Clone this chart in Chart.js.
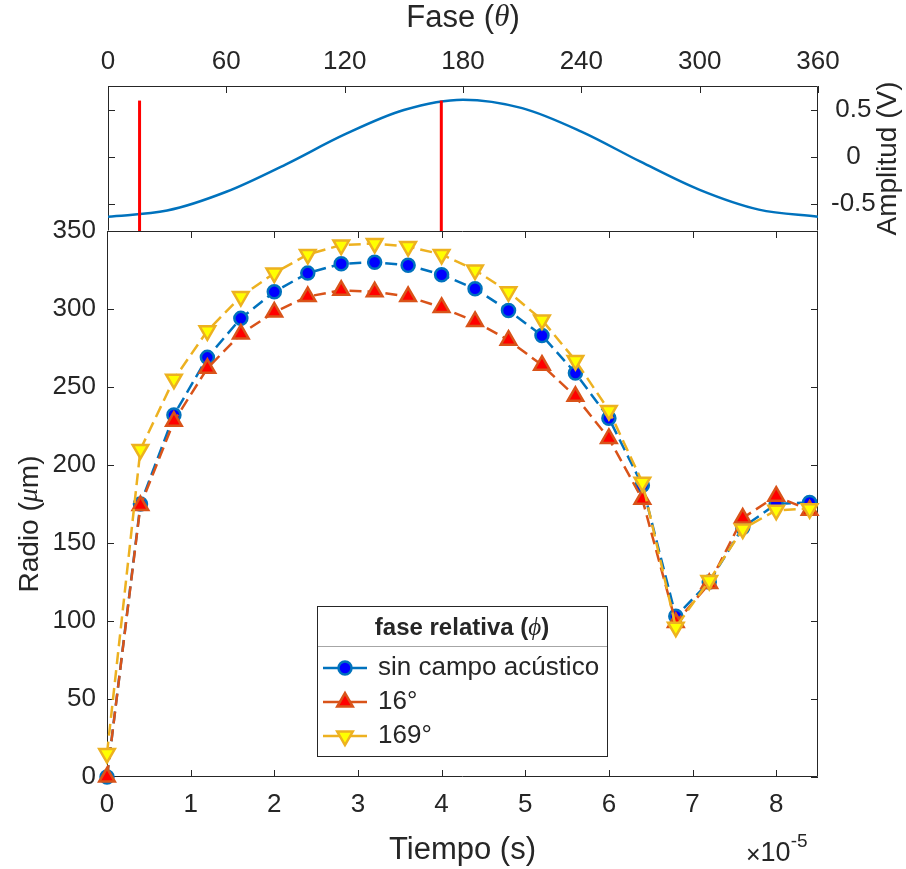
<!DOCTYPE html>
<html>
<head>
<meta charset="utf-8">
<title>Radio vs tiempo</title>
<script src="https://cdn.jsdelivr.net/npm/chart.js@4.4.0/dist/chart.umd.min.js"></script>
<style>
  html, body { margin: 0; padding: 0; background: #fff; }
  #lienzo { position: relative; width: 906px; height: 869px; }
  #lienzo canvas { position: absolute; left: 0; top: 0; }
</style>
</head>
<body>
<div id="lienzo">
  <canvas id="radio" width="906" height="869"></canvas>
  <canvas id="fase" width="906" height="271"></canvas>
</div>
<script>
// tiempo en unidades de 1e-5 s
const tiempo = [0, 0.4, 0.8, 1.2, 1.6, 2.0, 2.4, 2.8, 3.2, 3.6, 4.0, 4.4, 4.8, 5.2, 5.6, 6.0, 6.4, 6.8, 7.2, 7.6, 8.0, 8.4];
const radioSinCampo = [0, 175, 232, 269, 294, 311, 323, 329, 330, 328, 322, 313, 299, 283, 259, 230, 187, 103, 125, 160, 175, 176];
const radioFase16 = [0, 174, 228, 262, 284, 298, 308, 312, 311, 308, 301, 292, 280, 264, 244, 217, 178, 99, 124, 166, 180, 171];
const radioFase169 = [15, 210, 255, 286, 308, 323, 335, 341, 342, 340, 335, 325, 311, 293, 267, 235, 189, 96, 126, 159, 171, 172];
const nombresSeries = ['sin campo acústico', '16°', '169°'];
const ticksTiempo = [0, 1, 2, 3, 4, 5, 6, 7, 8];
const ticksRadio = [0, 50, 100, 150, 200, 250, 300, 350];

// panel superior: señal de excitación
const fase = [0, 30, 60, 90, 120, 150, 180, 210, 240, 270, 300, 330, 360];
const amplitud = [-0.635, -0.57, -0.37, -0.08, 0.24, 0.50, 0.61, 0.52, 0.27, -0.05, -0.35, -0.56, -0.635];
const fasesMarcadas = [16, 169];
const alturaMarca = [-0.787, 0.6];
const ticksFase = [0, 60, 120, 180, 240, 300, 360];
const ticksAmplitud = [-0.5, 0, 0.5];
const rangoAmplitud = [-0.787, 0.755];

const EJE = '#262626';
const SANS = '"Liberation Sans", Arial, Helvetica, sans-serif';
const SERIF = '"Liberation Serif", "DejaVu Serif", serif';
const TAM_TICK = 26;
const TAM_TITULO = 31;
const TAM_TITULO_V = 28;
const LARGO_TICK = 7;

Chart.defaults.font.family = SANS;
Chart.defaults.color = EJE;

// escribe un texto hecho de trozos con fuentes distintas, centrado en (x, y)
function textoMixto(ctx, partes, x, y, angulo, alinear) {
    ctx.save();
    ctx.translate(x, y);
    ctx.rotate(angulo || 0);
    ctx.textBaseline = 'middle';
    ctx.textAlign = 'left';
    let total = 0;
    partes.forEach(p => { ctx.font = p.f; p.w = ctx.measureText(p.t).width; total += p.w; });
    let cx = alinear === 'left' ? 0 : -total / 2;
    partes.forEach(p => {
        ctx.font = p.f;
        ctx.fillStyle = EJE;
        ctx.fillText(p.t, cx, p.dy || 0);
        cx += p.w;
    });
    ctx.restore();
}

// caja y marcas hacia dentro, estilo MATLAB
function dibujarMarco(chart, ejes, bordes) {
    const ctx = chart.ctx;
    const a = chart.chartArea;
    const l = a.left + 0.5, r = a.right - 0.5, t = a.top + 0.5, b = a.bottom - 0.5;
    ctx.save();
    ctx.strokeStyle = EJE;
    ctx.lineWidth = 1;
    ctx.beginPath();
    ejes.forEach(e => {
        const s = chart.scales[e.id];
        s.ticks.forEach(tk => {
            const p = Math.round(s.getPixelForValue(tk.value)) + 0.5;
            e.lados.forEach(lado => {
                if (lado === 'top') { ctx.moveTo(p, a.top); ctx.lineTo(p, a.top + LARGO_TICK); }
                if (lado === 'bottom') { ctx.moveTo(p, a.bottom); ctx.lineTo(p, a.bottom - LARGO_TICK); }
                if (lado === 'left') { ctx.moveTo(a.left, p); ctx.lineTo(a.left + LARGO_TICK, p); }
                if (lado === 'right') { ctx.moveTo(a.right, p); ctx.lineTo(a.right - LARGO_TICK, p); }
            });
        });
    });
    if (bordes.includes('top')) { ctx.moveTo(l, t); ctx.lineTo(r, t); }
    if (bordes.includes('bottom')) { ctx.moveTo(l, b); ctx.lineTo(r, b); }
    if (bordes.includes('left')) { ctx.moveTo(l, t); ctx.lineTo(l, b); }
    if (bordes.includes('right')) { ctx.moveTo(r, t); ctx.lineTo(r, b); }
    ctx.stroke();
    ctx.restore();
}

const marcoRadio = {
    id: 'marcoRadio',
    beforeDatasetsDraw(chart) {
        dibujarMarco(chart, [
            { id: 'x', lados: ['top', 'bottom'] },
            { id: 'y', lados: ['left', 'right'] }
        ], ['top', 'bottom', 'left', 'right']);
    },
    afterDraw(chart) {
        const ctx = chart.ctx;
        const a = chart.chartArea;
        const normal = TAM_TITULO + 'px ' + SANS;
        textoMixto(ctx, [{ t: 'Tiempo (s)', f: normal }], (a.left + a.right) / 2, 850);
        textoMixto(ctx, [
            { t: 'Radio (', f: TAM_TITULO_V + 'px ' + SANS },
            { t: 'μ', f: 'italic ' + TAM_TITULO_V + 'px ' + SERIF },
            { t: 'm)', f: TAM_TITULO_V + 'px ' + SANS }
        ], 30, 524, -Math.PI / 2);
        textoMixto(ctx, [
            { t: '×', f: '25px ' + SANS, dy: 2 },
            { t: '10', f: '27px ' + SANS },
            { t: '-5', f: '19px ' + SANS, dy: -12 }
        ], 746, 854, 0, 'left');

        // leyenda
        const caja = { x: 317, y: 606, w: 290, h: 151 };
        ctx.save();
        ctx.fillStyle = '#fff';
        ctx.fillRect(caja.x, caja.y, caja.w, caja.h);
        ctx.strokeStyle = EJE;
        ctx.lineWidth = 1;
        ctx.strokeRect(caja.x + 0.5, caja.y + 0.5, caja.w, caja.h - 1);
        ctx.strokeStyle = '#a6a6a6';
        ctx.beginPath();
        ctx.moveTo(caja.x + 1, 646.5);
        ctx.lineTo(caja.x + caja.w, 646.5);
        ctx.stroke();
        ctx.restore();
        textoMixto(ctx, [
            { t: 'fase relativa (', f: 'bold 24px ' + SANS },
            { t: 'ϕ', f: 'italic 25px ' + SERIF },
            { t: ')', f: 'bold 24px ' + SANS }
        ], caja.x + caja.w / 2, 628);
        chart.data.datasets.forEach((ds, i) => {
            const y = 668 + i * 34;
            ctx.save();
            ctx.setLineDash([]);
            ctx.strokeStyle = ds.borderColor;
            ctx.lineWidth = ds.borderWidth;
            ctx.beginPath();
            ctx.moveTo(323, y);
            ctx.lineTo(367, y);
            ctx.stroke();
            ctx.fillStyle = ds.pointBackgroundColor;
            ctx.strokeStyle = ds.pointBorderColor;
            ctx.lineWidth = ds.pointBorderWidth;
            Chart.helpers.drawPoint(ctx, {
                pointStyle: ds.pointStyle,
                radius: ds.pointRadius,
                rotation: ds.pointRotation || 0,
                borderWidth: ds.pointBorderWidth
            }, 345, y);
            ctx.restore();
            textoMixto(ctx, [{ t: nombresSeries[i], f: '26px ' + SANS }], 378, y, 0, 'left');
        });
    }
};

const marcoFase = {
    id: 'marcoFase',
    beforeDatasetsDraw(chart) {
        // el borde inferior lo pone el panel de abajo
        dibujarMarco(chart, [
            { id: 'x', lados: ['top'] },
            { id: 'y', lados: ['left', 'right'] }
        ], ['top', 'left', 'right']);
    },
    afterDraw(chart) {
        const ctx = chart.ctx;
        const a = chart.chartArea;
        const normal = TAM_TITULO + 'px ' + SANS;
        textoMixto(ctx, [
            { t: 'Fase (', f: normal },
            { t: 'θ', f: 'italic ' + TAM_TITULO + 'px ' + SERIF },
            { t: ')', f: normal }
        ], (a.left + a.right) / 2, 18);
        textoMixto(ctx, [{ t: 'Amplitud (V)', f: TAM_TITULO_V + 'px ' + SANS }], 888, (a.top + a.bottom) / 2, -Math.PI / 2);
    }
};

function serie(valores, color, relleno, estilo, rotacion, orden) {
    return {
        data: tiempo.map((t, i) => ({ x: t, y: valores[i] })),
        borderColor: color,
        borderWidth: 2.5,
        borderDash: [12, 6],
        pointStyle: estilo,
        pointRotation: rotacion,
        pointRadius: estilo === 'circle' ? 6.5 : 9,
        pointBackgroundColor: relleno,
        pointBorderColor: color,
        pointBorderWidth: 2.5,
        tension: 0,
        clip: false,
        order: orden
    };
}

new Chart(document.getElementById('radio'), {
    type: 'line',
    data: {
        datasets: [
            serie(radioSinCampo, '#0072BD', '#0000FF', 'circle', 0, 3),
            serie(radioFase16, '#D95319', '#FF0000', 'triangle', 0, 2),
            serie(radioFase169, '#EDB120', '#FFFF00', 'triangle', 180, 1)
        ]
    },
    options: {
        responsive: false,
        animation: false,
        events: [],
        layout: { padding: { left: 0, top: 231, right: 88, bottom: 0 } },
        plugins: { legend: { display: false }, tooltip: { enabled: false } },
        scales: {
            x: {
                type: 'linear',
                position: 'bottom',
                min: 0,
                max: 8.5,
                grid: { display: false, drawTicks: false },
                border: { display: false },
                afterBuildTicks: s => { s.ticks = ticksTiempo.map(v => ({ value: v })); },
                afterFit: s => { s.height = 92; },
                ticks: { font: { size: TAM_TICK }, color: EJE, padding: 12, maxRotation: 0, callback: v => String(v) }
            },
            y: {
                type: 'linear',
                position: 'left',
                min: 0,
                max: 350,
                grid: { display: false, drawTicks: false },
                border: { display: false },
                afterBuildTicks: s => { s.ticks = ticksRadio.map(v => ({ value: v })); },
                afterFit: s => { s.width = 107; },
                ticks: { font: { size: TAM_TICK }, color: EJE, padding: 11, callback: v => String(v) }
            }
        }
    },
    plugins: [marcoRadio]
});

new Chart(document.getElementById('fase'), {
    type: 'line',
    data: {
        datasets: [
            {
                data: fase.map((f, i) => ({ x: f, y: amplitud[i] })),
                borderColor: '#0072BD',
                borderWidth: 2.5,
                pointRadius: 0,
                cubicInterpolationMode: 'monotone',
                order: 2
            }
        ].concat(fasesMarcadas.map(f => ({
            data: alturaMarca.map(v => ({ x: f, y: v })),
            borderColor: '#FF0000',
            borderWidth: 3,
            pointRadius: 0,
            order: 1
        })))
    },
    options: {
        responsive: false,
        animation: false,
        events: [],
        layout: { padding: { left: 108, top: 0, right: 0, bottom: 40 } },
        plugins: { legend: { display: false }, tooltip: { enabled: false } },
        scales: {
            x: {
                type: 'linear',
                position: 'top',
                min: 0,
                max: 360,
                grid: { display: false, drawTicks: false },
                border: { display: false },
                afterBuildTicks: s => { s.ticks = ticksFase.map(v => ({ value: v })); },
                afterFit: s => { s.height = 86; },
                ticks: { font: { size: TAM_TICK }, color: EJE, padding: 9, maxRotation: 0, callback: v => String(v) }
            },
            y: {
                type: 'linear',
                position: 'right',
                min: rangoAmplitud[0],
                max: rangoAmplitud[1],
                grid: { display: false, drawTicks: false },
                border: { display: false },
                afterBuildTicks: s => { s.ticks = ticksAmplitud.map(v => ({ value: v })); },
                afterFit: s => { s.width = 88; },
                ticks: { font: { size: TAM_TICK }, color: EJE, padding: 13, crossAlign: 'center', callback: v => String(v) }
            }
        }
    },
    plugins: [marcoFase]
});
</script>
</body>
</html>
